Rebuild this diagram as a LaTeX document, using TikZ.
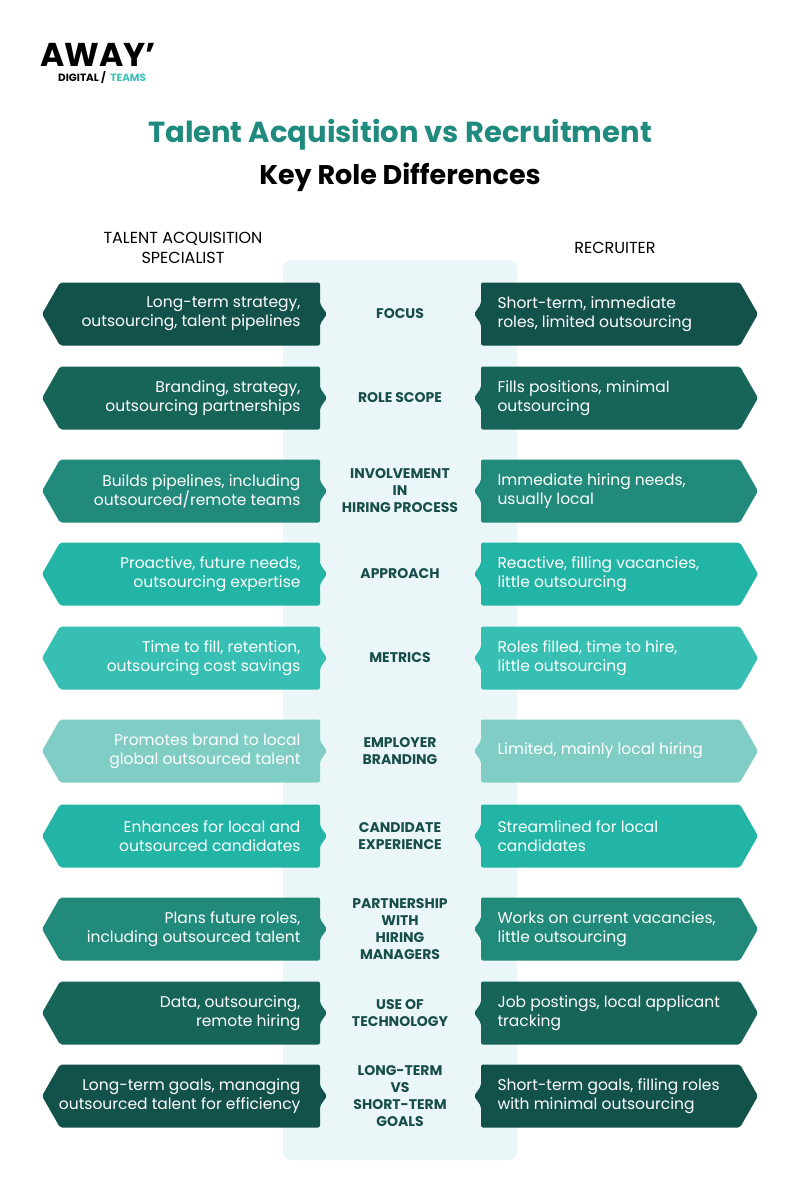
\documentclass[tikz,border=0pt]{standalone}
\usepackage{fontspec}
\setmainfont{Poppins}
\begin{document}
\begin{tikzpicture}[x=1pt,y=-1pt,
  lab/.style={font=\fontsize{14}{17}\selectfont\bfseries,text=labc,align=center},
  lt/.style={font=\fontsize{15.5}{19}\selectfont,text=white,align=right,anchor=east},
  rt/.style={font=\fontsize{15.5}{19}\selectfont,text=white,align=left,anchor=west},
  hd/.style={font=\fontsize{16}{20}\selectfont,align=center},
  lg/.style={inner sep=0,font=\fontsize{10.5}{11}\selectfont\bfseries}]
\definecolor{labc}{HTML}{174E49}
\definecolor{cA}{HTML}{13524B}
\definecolor{cB}{HTML}{176459}
\definecolor{cC}{HTML}{218A7A}
\definecolor{cD}{HTML}{22B5A5}
\definecolor{cE}{HTML}{36BFB2}
\definecolor{cF}{HTML}{80CDC5}
\definecolor{panel}{HTML}{EAF6F8}
\definecolor{ttl}{HTML}{1F8A7E}
\definecolor{logot}{HTML}{3CC3B8}
\useasboundingbox (0,0) rectangle (800,1201);
\fill[white] (0,0) rectangle (800,1201);
\node[anchor=base west,inner sep=0,font=\fontsize{33}{33}\selectfont\bfseries] (logo) at (40,67) {AWAY'};
\node[lg,anchor=base west] (logo2) at (58,82) {DIGITAL /};
\node[lg,anchor=base west,text=logot] (logo3) at ([xshift=4pt]logo2.base east) {TEAMS};
\node[font=\fontsize{29}{32}\selectfont\bfseries,text=ttl] (t1) at (400,135) {Talent Acquisition vs Recruitment};
\node[font=\fontsize{27}{30}\selectfont\bfseries] (t2) at (400,177) {Key Role Differences};
\node[hd] (h1) at (183,248) {TALENT ACQUISITION\\SPECIALIST};
\node[hd] (h2) at (615,248) {RECRUITER};
\fill[panel,rounded corners=8] (283,260) rectangle (517,1160);
\foreach \y/\c/\l/\m/\r in {
314/cA/{Long-term strategy,\\outsourcing, talent pipelines}/{FOCUS}/{Short-term, immediate\\roles, limited outsourcing},
398/cB/{Branding, strategy,\\outsourcing partnerships}/{ROLE SCOPE}/{Fills positions, minimal\\outsourcing},
491/cC/{Builds pipelines, including\\outsourced/remote teams}/{INVOLVEMENT\\IN\\HIRING PROCESS}/{Immediate hiring needs,\\usually local},
574/cD/{Proactive, future needs,\\outsourcing expertise}/{APPROACH}/{Reactive, filling vacancies,\\little outsourcing},
658/cE/{Time to fill, retention,\\outsourcing cost savings}/{METRICS}/{Roles filled, time to hire,\\little outsourcing},
751/cF/{Promotes brand to local\\global outsourced talent}/{EMPLOYER\\BRANDING}/{Limited, mainly local hiring},
836/cD/{Enhances for local and\\outsourced candidates}/{CANDIDATE\\EXPERIENCE}/{Streamlined for local\\candidates},
929/cC/{Plans future roles,\\including outsourced talent}/{PARTNERSHIP\\WITH\\HIRING\\MANAGERS}/{Works on current vacancies,\\little outsourcing},
1013/cB/{Data, outsourcing,\\remote hiring}/{USE OF\\TECHNOLOGY}/{Job postings, local applicant\\tracking},
1096/cA/{Long-term goals, managing\\outsourced talent for efficiency}/{LONG-TERM\\VS\\SHORT-TERM\\GOALS}/{Short-term goals, filling roles\\with minimal outsourcing}}{
  \fill[\c,rounded corners=2] (60,\y-31.5) -- (320,\y-31.5) -- (320,\y-10) -- (327,\y) -- (320,\y+10) -- (320,\y+31.5) -- (60,\y+31.5) -- (42,\y) -- cycle;
  \fill[\c,rounded corners=2] (740,\y-31.5) -- (481,\y-31.5) -- (481,\y-10) -- (474,\y) -- (481,\y+10) -- (481,\y+31.5) -- (740,\y+31.5) -- (758,\y) -- cycle;
  \node[lt] (L\y) at (304,\y) {\l};
  \node[rt] (R\y) at (494,\y) {\r};
  \node[lab] (M\y) at (400,\y) {\m};
}
\end{tikzpicture}
\end{document}
